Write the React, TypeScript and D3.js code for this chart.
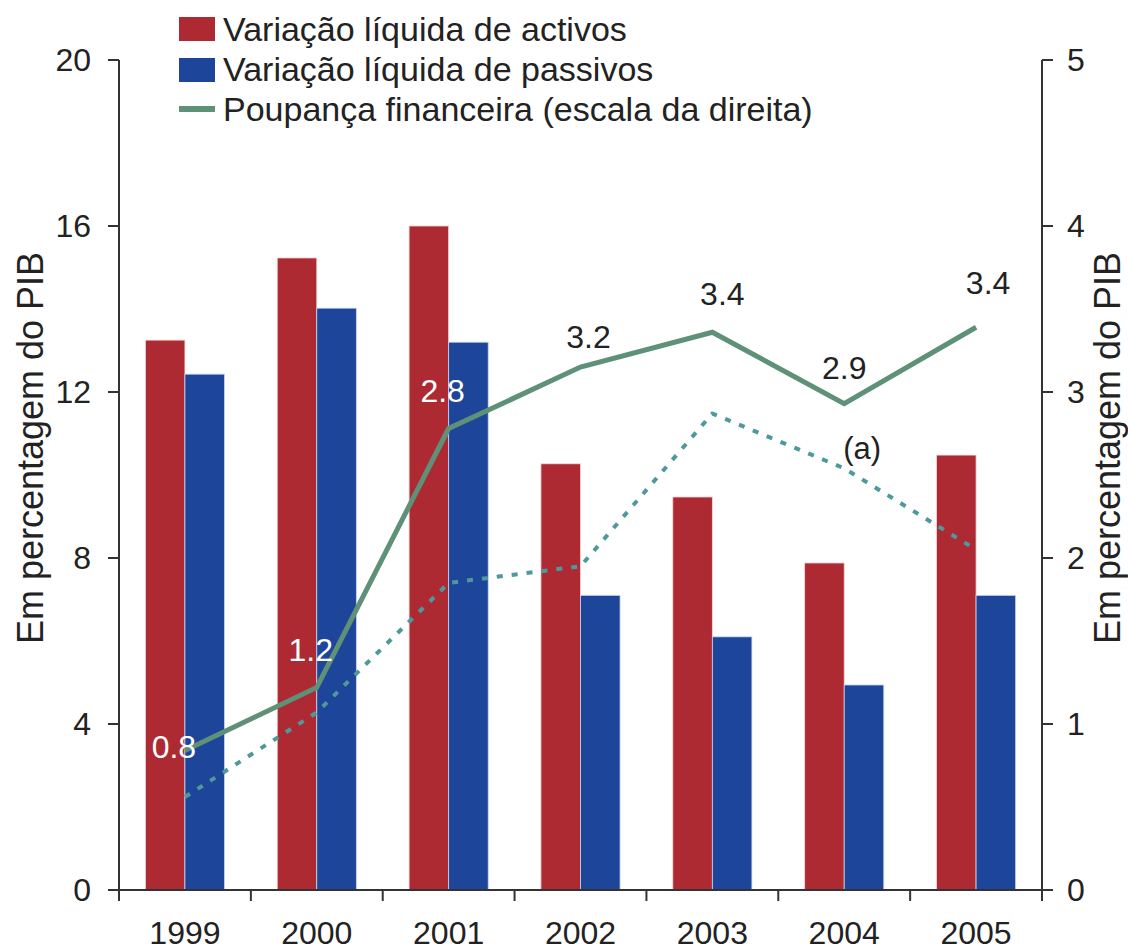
import React from 'react'
import * as d3 from 'd3'

const years = ['1999', '2000', '2001', '2002', '2003', '2004', '2005']
const activos = [13.25, 15.23, 16.0, 10.27, 9.47, 7.88, 10.48]
const passivos = [12.43, 14.02, 13.2, 7.1, 6.1, 4.94, 7.1]
const poupanca = [0.84, 1.22, 2.78, 3.15, 3.36, 2.93, 3.39]
const poupancaLabels = ['0.8', '1.2', '2.8', '3.2', '3.4', '2.9', '3.4']
const poupancaA = [0.56, 1.07, 1.85, 1.95, 2.87, 2.54, 2.05]
const leftTicks = [0, 4, 8, 12, 16, 20]
const rightTicks = [0, 1, 2, 3, 4, 5]
const legendItems = [
  'Variação líquida de activos',
  'Variação líquida de passivos',
  'Poupança financeira (escala da direita)',
]

const W = 1128
const H = 952
const margin = { top: 60, right: 86, bottom: 62, left: 119 }
const font = '"Liberation Sans", Arial, sans-serif'
const RED = '#ae2a33'
const BLUE = '#1d4599'
const GREEN = '#5f9078'
const TEAL = '#4f989c'
const INK = '#222'

// label offsets around each point of the solid line: [dx, dy, white?]
const labelPos: [number, number, boolean][] = [
  [-11, -4, true],
  [-6, -38, true],
  [-6, -38, true],
  [8, -30, false],
  [10, -38, false],
  [0, -36, false],
  [12, -44, false],
]

const App = () => {
  const x = d3.scaleBand().domain(years).range([margin.left, W - margin.right])
  const yL = d3.scaleLinear().domain([0, 20]).range([H - margin.bottom, margin.top])
  const yR = d3.scaleLinear().domain([0, 5]).range([H - margin.bottom, margin.top])
  const bw = x.bandwidth() * 0.3
  const cx = (y: string) => (x(y) as number) + x.bandwidth() / 2
  const x0 = margin.left
  const x1 = W - margin.right
  const yb = H - margin.bottom

  const line = d3.line<number>().x((_, i) => cx(years[i])).y((d) => yR(d))

  return (
    <svg width={W} height={H} style={{ position: 'absolute', left: 0, top: 0, background: '#fff' }}
      fontFamily={font}>
      {/* bars */}
      {years.map((y, i) => (
        <g key={y}>
          <rect x={cx(y) - bw} y={yL(activos[i])} width={bw} height={yb - yL(activos[i])} fill={RED}
            stroke="#f3d6d8" strokeWidth={0.8} />
          <rect x={cx(y)} y={yL(passivos[i])} width={bw} height={yb - yL(passivos[i])} fill={BLUE}
            stroke="#c9d5ee" strokeWidth={0.8} />
        </g>
      ))}

      {/* lines */}
      <path d={line(poupancaA) || ''} fill="none" stroke={TEAL} strokeWidth={4} strokeDasharray="6 9" />
      <path d={line(poupanca) || ''} fill="none" stroke={GREEN} strokeWidth={5} strokeLinejoin="miter" />

      {/* data labels */}
      {poupanca.map((v, i) => (
        <text key={i} x={cx(years[i]) + labelPos[i][0]} y={yR(v) + labelPos[i][1]} textAnchor="middle"
          dy="0.35em" fontSize={32} fill={labelPos[i][2] ? '#fff' : INK}>
          {poupancaLabels[i]}
        </text>
      ))}
      <text x={cx('2004') + 18} y={yR(poupancaA[5]) - 20} textAnchor="middle" dy="0.35em" fontSize={31} fill={INK}>
        (a)
      </text>

      {/* axes */}
      <g stroke="#333" strokeWidth={2} fill="none">
        <line x1={x0} x2={x0} y1={margin.top} y2={yb} />
        <line x1={x1} x2={x1} y1={margin.top} y2={yb} />
        <line x1={x0} x2={x1} y1={yb} y2={yb} />
        {leftTicks.map((t) => (
          <line key={'l' + t} x1={x0 - 11} x2={x0} y1={yL(t)} y2={yL(t)} />
        ))}
        {rightTicks.map((t) => (
          <line key={'r' + t} x1={x1} x2={x1 + 11} y1={yR(t)} y2={yR(t)} />
        ))}
        {years.map((y) => (
          <line key={'x' + y} x1={x(y)} x2={x(y)} y1={yb} y2={yb + 11} />
        ))}
        <line x1={x1} x2={x1} y1={yb} y2={yb + 11} />
      </g>
      {leftTicks.map((t) => (
        <text key={'lt' + t} x={x0 - 28} y={yL(t)} textAnchor="end" dy="0.35em" fontSize={32} fill={INK}>
          {t}
        </text>
      ))}
      {rightTicks.map((t) => (
        <text key={'rt' + t} x={x1 + 25} y={yR(t)} textAnchor="start" dy="0.35em" fontSize={32} fill={INK}>
          {t}
        </text>
      ))}
      {years.map((y) => (
        <text key={'yt' + y} x={cx(y)} y={yb + 43} textAnchor="middle" dy="0.35em" fontSize={32} fill={INK}>
          {y}
        </text>
      ))}

      {/* axis titles */}
      <text transform={`translate(30, 448) rotate(-90)`} textAnchor="middle" dy="0.35em" fontSize={36} fill={INK}>
        Em percentagem do PIB
      </text>
      <text transform={`translate(1107, 448) rotate(-90)`} textAnchor="middle" dy="0.35em" fontSize={36} fill={INK}>
        Em percentagem do PIB
      </text>

      {/* legend */}
      <g>
        <rect x={179} y={17} width={36} height={24} fill={RED} />
        <rect x={179} y={58} width={36} height={24} fill={BLUE} />
        <line x1={179} x2={215} y1={109} y2={109} stroke={GREEN} strokeWidth={6} />
        {legendItems.map((t, i) => (
          <text key={t} x={223} y={29 + i * 40} dy="0.35em" fontSize={34} fill={INK}>
            {t}
          </text>
        ))}
      </g>
    </svg>
  )
}

export default App
